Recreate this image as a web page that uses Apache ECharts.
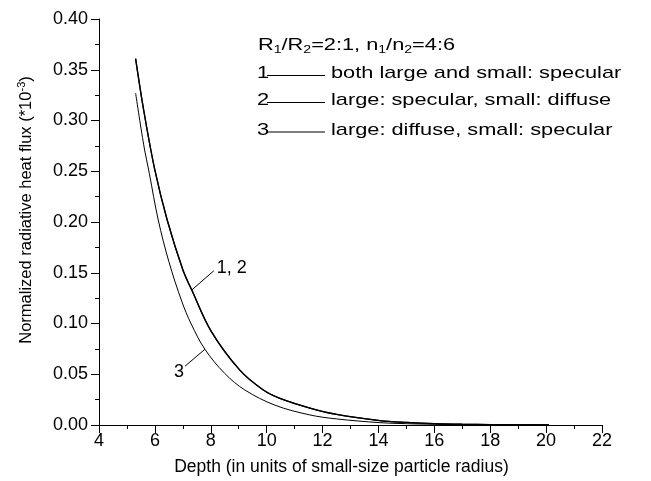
<!DOCTYPE html>
<html><head><meta charset="utf-8">
<script src="https://cdn.jsdelivr.net/npm/echarts@6/dist/echarts.min.js"></script>
<style>html,body{margin:0;padding:0;background:#fff}#c{width:651px;height:481px}</style>
</head><body><div id="c"></div>
<script>
// Curve 1: both large and small: specular
const depth1 = [5.31, 5.6, 6.0, 6.44, 7.0, 7.32, 8.0, 9.04, 9.88, 10.5, 11.55, 12.5, 14.05, 15.0, 16.0, 17.0, 18.0, 19.0, 20.1];
const flux1  = [0.361, 0.310, 0.251, 0.202, 0.153, 0.133, 0.093, 0.054, 0.0345, 0.026, 0.0167, 0.0105, 0.0043, 0.0025, 0.0013, 0.0007, 0.0004, 0.0002, 0.0001];
// Curve 2: large: specular, small: diffuse (coincides with curve 1)
const depth2 = [5.31, 5.6, 6.0, 6.44, 7.0, 7.32, 8.0, 9.04, 9.88, 10.5, 11.55, 12.5, 14.05, 15.0, 16.0, 17.0, 18.0, 19.0, 20.1];
const flux2  = [0.361, 0.310, 0.251, 0.202, 0.153, 0.133, 0.093, 0.054, 0.0345, 0.026, 0.0167, 0.0105, 0.0043, 0.0025, 0.0013, 0.0007, 0.0004, 0.0002, 0.0001];
// Curve 3: large: diffuse, small: specular
const depth3 = [5.31, 5.6, 5.8, 6.12, 6.5, 6.96, 7.3, 7.79, 8.5, 9.22, 10.3, 11.55, 12.5, 14.05, 15.0, 16.0, 17.0, 18.0, 19.0, 20.1];
const flux3  = [0.327, 0.276, 0.248, 0.202, 0.161, 0.122, 0.0995, 0.0746, 0.0508, 0.0345, 0.0195, 0.0099, 0.0060, 0.0023, 0.0013, 0.0007, 0.0004, 0.0002, 0.0001, 0.00005];

// Leader lines for curve labels (data coordinates)
const leader12 = [[7.32, 0.133], [8.11, 0.152]];
const leader3  = [[7.79, 0.0746], [7.08, 0.058]];
const curveLabels = ['1, 2', '3'];

// Legend annotation texts
const legendHeader = '{n|R}{s|1}{n|/R}{s|2}{n|=2:1, n}{s|1}{n|/n}{s|2}{n|=4:6}';
const legendNums  = ['1', '2', '3'];
const legendTexts = ['both large and small: specular', 'large: specular, small: diffuse', 'large: diffuse, small: specular'];

const xTitle = 'Depth (in units of small-size particle radius)';
const yTitle = '{n|Normalized radiative heat flux (*10}{sup|-3}{n|)}';

const FONT = '"Liberation Sans", Arial, Helvetica, sans-serif';
const zip = (xs, ys) => xs.map((x, i) => [x, ys[i]]);

const chart = echarts.init(document.getElementById('c'), null, {renderer: 'canvas'});

const rowY = [73.5, 100.5, 130.5];
const lineY = [75.5, 102.5, 132];
const graphics = [];
graphics.push({type: 'text', x: 258, y: 45, scaleX: 1.28,
  style: {text: legendHeader, fontFamily: FONT, verticalAlign: 'middle', align: 'left', fill: '#000',
    rich: {n: {fontSize: 17, fontFamily: FONT, lineHeight: 20, fill: '#000'},
           s: {fontSize: 11, fontFamily: FONT, lineHeight: 8, verticalAlign: 'bottom', fill: '#000'}}}});
for (let i = 0; i < 3; i++) {
  graphics.push({type: 'text', x: 257, y: rowY[i], scaleX: 1.28,
    style: {text: legendNums[i], fontSize: 17, fontFamily: FONT, verticalAlign: 'middle', fill: '#000'}});
  graphics.push({type: 'line', shape: {x1: 267, y1: lineY[i], x2: 325, y2: lineY[i]},
    style: {stroke: '#000', lineWidth: 1}});
  graphics.push({type: 'text', x: 331, y: rowY[i], scaleX: 1.28,
    style: {text: legendTexts[i], fontSize: 17, fontFamily: FONT, verticalAlign: 'middle', fill: '#000'}});
}

const option = {
  animation: false,
  backgroundColor: '#fff',
  grid: {left: 99, right: 49, top: 19, bottom: 56, containLabel: false},
  xAxis: {
    type: 'value', min: 4, max: 22, interval: 2,
    axisLine: {show: true, onZero: false, lineStyle: {color: '#000', width: 1}},
    axisTick: {show: true, inside: false, length: 8, lineStyle: {color: '#000', width: 1}},
    minorTick: {show: true, splitNumber: 2, length: 4, lineStyle: {color: '#000', width: 1}},
    splitLine: {show: false},
    axisLabel: {fontSize: 18, color: '#000', fontFamily: FONT, margin: 7},
    name: xTitle, nameLocation: 'middle', nameGap: 33,
    nameTextStyle: {fontSize: 17.5, color: '#000', fontFamily: FONT, padding: [0, 18, 0, 0]}
  },
  yAxis: {
    type: 'value', min: 0, max: 0.4, interval: 0.05,
    axisLine: {show: true, onZero: false, lineStyle: {color: '#000', width: 1}},
    axisTick: {show: true, inside: false, length: 8, lineStyle: {color: '#000', width: 1}},
    minorTick: {show: true, splitNumber: 2, length: 4, lineStyle: {color: '#000', width: 1}},
    splitLine: {show: false},
    axisLabel: {fontSize: 18, color: '#000', fontFamily: FONT, margin: 11, formatter: v => v.toFixed(2)},
    name: yTitle, nameLocation: 'middle', nameGap: 63,
    nameTextStyle: {fontSize: 16.5, color: '#000', fontFamily: FONT, padding: [0, 0, 0, 24],
      rich: {n: {fontSize: 16.5, fontFamily: FONT, color: '#000', lineHeight: 20},
             sup: {fontSize: 11, fontFamily: FONT, color: '#000', lineHeight: 8, verticalAlign: 'top'}}}
  },
  series: [
    {name: '1', type: 'line', data: zip(depth1, flux1), showSymbol: false, smooth: 0.35,
     lineStyle: {color: '#000', width: 1.3}},
    {name: '2', type: 'line', data: zip(depth2, flux2), showSymbol: false, smooth: 0.35,
     lineStyle: {color: '#000', width: 1.3}},
    {name: '3', type: 'line', data: zip(depth3, flux3), showSymbol: false, smooth: 0.35,
     lineStyle: {color: '#000', width: 1},
     markLine: {silent: true, symbol: ['none', 'none'], label: {show: false},
       lineStyle: {color: '#000', width: 1, type: 'solid'},
       data: [[{coord: leader12[0]}, {coord: leader12[1]}], [{coord: leader3[0]}, {coord: leader3[1]}]]},
     markPoint: {silent: true, symbol: 'circle', symbolSize: 0,
       data: [
         {coord: leader12[1], label: {show: true, formatter: curveLabels[0], position: 'right', distance: 3, offset: [0, -3], fontSize: 18, color: '#000', fontFamily: FONT}},
         {coord: leader3[1], label: {show: true, formatter: curveLabels[1], position: 'left', distance: 1, offset: [0, 6], fontSize: 18, color: '#000', fontFamily: FONT}}
       ]}
    }
  ],
  graphic: graphics
};
chart.setOption(option);
</script></body></html>
